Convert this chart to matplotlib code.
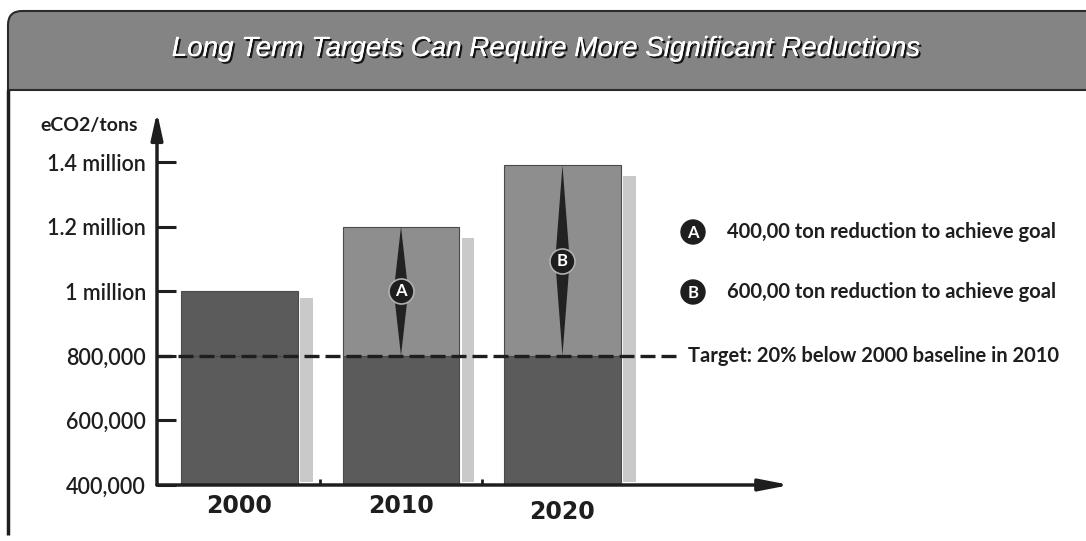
import matplotlib
matplotlib.use("Agg")
import matplotlib.pyplot as plt
import matplotlib.patheffects as pe
from matplotlib.path import Path
from matplotlib.patches import PathPatch, Circle, Polygon

# ---------------- data ----------------
years = ["2000", "2010", "2020"]
emissions = [1000000, 1200000, 1390000]
shadow_vals = [978000, 1165000, 1356000]
target = 800000
upper_is_reduction = [False, True, True]
reduction_labels = ["", "A", "B"]
ytick_vals = [400000, 600000, 800000, 1000000, 1200000, 1400000]
ytick_labels = ["400,000", "600,000", "800,000", "1 million", "1.2 million", "1.4 million"]
title = "Long Term Targets Can Require More Significant Reductions"
ylabel = "eCO2/tons"
legend_items = [("A", "400,00 ton reduction to achieve goal"),
                ("B", "600,00 ton reduction to achieve goal")]
target_label = "Target: 20% below 2000 baseline in 2010"

W, H = 1086, 541
DARK = "#5b5b5b"
MED = "#8e8e8e"
LIGHT = "#c9c9c9"
INK = "#1e1e1e"
FONT = ["Lato", "DejaVu Sans"]

fig = plt.figure(figsize=(W / 100, H / 100), dpi=100)
fig.patch.set_facecolor("white")

# overlay axes in pixel coordinates for decoration
deco = fig.add_axes([0, 0, 1, 1], zorder=0)
deco.set_xlim(0, W)
deco.set_ylim(H, 0)
deco.axis("off")

# header band with rounded top-left corner
r = 14
top, bot, lft, rgt = 11, 90, 8, W + 5
verts = [(lft, bot), (lft, top + r), (lft, top), (lft + r, top), (rgt, top),
         (rgt, bot), (lft, bot)]
codes = [Path.MOVETO, Path.LINETO, Path.CURVE3, Path.CURVE3, Path.LINETO,
         Path.LINETO, Path.CLOSEPOLY]
deco.add_patch(PathPatch(Path(verts, codes), facecolor="#848484",
                         edgecolor="#2a2a2a", lw=1.5))
deco.plot([lft, lft], [bot, 535], color=INK, lw=2.5, solid_capstyle="butt")
deco.text(545, 49, title, ha="center", va="center", color="white",
          fontsize=20, style="italic",
          family=["Liberation Sans Narrow", "Liberation Sans"],
          path_effects=[pe.withSimplePatchShadow(offset=(1.5, -1.5),
                                                 shadow_rgbFace="black", alpha=0.85),
                        pe.Normal()])

# legend entries
for i, (lab, txt) in enumerate(legend_items):
    yy = 232 + 60 * i
    deco.add_patch(Circle((693, yy), 12, facecolor=INK, edgecolor=INK, zorder=3))
    deco.text(693, yy + 0.5, lab, ha="center", va="center", color="white",
              fontsize=12, fontweight="bold", family=FONT, zorder=4)
    deco.text(727, yy, txt, ha="left", va="center", color=INK,
              fontsize=14.5, fontweight="bold", family=FONT)
deco.text(688, 356, target_label, ha="left", va="center", color=INK,
          fontsize=14.5, fontweight="bold", family=FONT)
deco.text(40, 126, ylabel, ha="left", va="center", color=INK,
          fontsize=14, fontweight="bold", family=FONT)

# ---------------- main axes ----------------
ax = fig.add_axes([157 / W, 1 - 485 / H, 633 / W, 373 / H], zorder=1)
ax.patch.set_alpha(0)
ax.set_xlim(-0.511, 3.409)
ax.set_ylim(400000, 1555000)
for s in ax.spines.values():
    s.set_visible(False)

xpos = list(range(len(years)))
bw = 0.724
ybase = 400000
lower = [min(e, target) for e in emissions]
upper = [max(e - target, 0) for e in emissions]
ucols = [MED if u else DARK for u in upper_is_reduction]

ax.bar(xpos, [l - ybase for l in lower], bottom=ybase, width=bw, color=DARK,
       edgecolor="#4a4a4a", lw=0.8, zorder=2)
ax.bar(xpos, upper, bottom=target, width=bw, color=ucols,
       edgecolor="#4a4a4a", lw=0.8, zorder=2)
ax.bar([x + 0.415 for x in xpos], [s - ybase - 8000 for s in shadow_vals],
       bottom=ybase + 8000, width=0.08, color=LIGHT, lw=0, zorder=1)

# target line
ax.axhline(target, xmin=0, xmax=(680 - 157) / 633, color=INK, lw=2.4,
           dashes=(4.5, 1.8), zorder=5)

# reduction spindles
for x, e, lab, flag in zip(xpos, emissions, reduction_labels, upper_is_reduction):
    if not flag:
        continue
    mid = (e + target) / 2
    poly = Polygon([(x, target), (x + 0.045, mid), (x, e), (x - 0.045, mid)],
                   closed=True, facecolor="#222222", edgecolor="none", zorder=4)
    ax.add_patch(poly)
    ax.plot([x], [mid], marker="o", ms=18, mfc=INK, mec="#b0b0b0", mew=1.2, zorder=6)
    ax.text(x, mid, lab, ha="center", va="center", color="white", fontsize=12,
            fontweight="bold", family=FONT, zorder=7)

# axes arrows
ax.annotate("", xy=(0, 1), xytext=(0, 0), xycoords="axes fraction",
            arrowprops=dict(arrowstyle="-|>,head_length=1.6,head_width=0.35",
                            lw=2.5, color=INK, shrinkA=0, shrinkB=0), zorder=8)
ax.annotate("", xy=(1, 0), xytext=(0, 0), xycoords="axes fraction",
            arrowprops=dict(arrowstyle="-|>,head_length=1.8,head_width=0.35",
                            lw=2.5, color=INK, shrinkA=0, shrinkB=0), zorder=8)

ax.set_yticks(ytick_vals)
ax.set_yticklabels(ytick_labels, family=FONT, fontsize=15.5, color=INK,
                   fontweight="semibold")
ax.tick_params(axis="y", direction="in", length=14, width=2.2, pad=8, color=INK)
ax.set_xticks([0.5, 1.5])
ax.set_xticklabels(["", ""])
ax.tick_params(axis="x", direction="in", length=4, width=2, color=INK)

year_offsets = [0, 0, -6]
for x, yr, off in zip(xpos, years, year_offsets):
    ax.annotate(yr, xy=(x, 0), xycoords=("data", "axes fraction"),
                xytext=(0, -21 + off), textcoords="offset pixels",
                ha="center", va="center", fontsize=17, fontweight="bold",
                family=["DejaVu Sans"], color=INK)

fig.savefig("out.png", dpi=100)
